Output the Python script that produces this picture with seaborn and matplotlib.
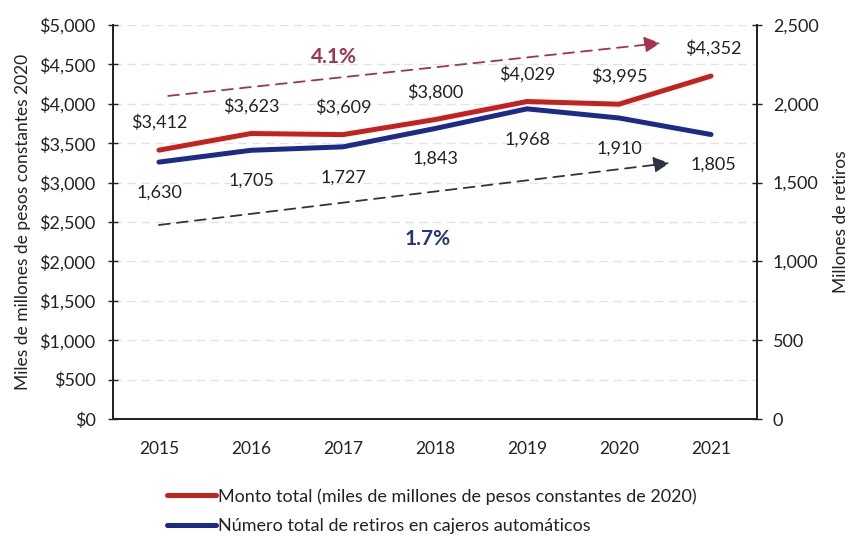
import matplotlib
matplotlib.use("Agg")
import matplotlib.pyplot as plt
from matplotlib.lines import Line2D
import seaborn as sns
import pandas as pd

sns.set_theme(style="white")
plt.rcParams["font.family"] = ["Lato", "DejaVu Sans"]

# Data
years = ["2015", "2016", "2017", "2018", "2019", "2020", "2021"]
monto = [3412, 3623, 3609, 3800, 4029, 3995, 4352]          # miles de millones de pesos 2020
retiros = [1630, 1705, 1727, 1843, 1968, 1910, 1805]        # millones de retiros

# Trend arrows (start/end in category units and axis values)
monto_trend_x = [0.1, 5.45]
monto_trend_y = [4100, 4770]
retiros_trend_x = [0.0, 5.55]
retiros_trend_y = [1231, 1624]
monto_rate = "4.1%"
retiros_rate = "1.7%"

red = "#c4211f"
navy = "#1c2a8a"
red_trend = "#a3344f"
navy_trend = "#2e3348"
text_col = "#222222"
fs = 13

fig = plt.figure(figsize=(8.5, 5.37), dpi=100)
ax = fig.add_axes([113 / 850, 1 - 419 / 537, (757 - 113) / 850, (419 - 25) / 537])
ax2 = ax.twinx()

x = list(range(len(years)))
df = pd.DataFrame({"x": x, "monto": monto, "retiros": retiros})

# light dashed gridlines
for v in range(500, 5001, 500):
    ax.axhline(v, color="#e2e2e2", lw=1.0, ls=(0, (6, 4)), zorder=0)

sns.lineplot(data=df, x="x", y="monto", ax=ax, color=red, lw=3.6, zorder=3)
sns.lineplot(data=df, x="x", y="retiros", ax=ax2, color=navy, lw=3.6, zorder=3)

# trend arrows
ax.annotate("", xy=(monto_trend_x[1], monto_trend_y[1]),
            xytext=(monto_trend_x[0], monto_trend_y[0]),
            arrowprops=dict(arrowstyle="-|>,head_length=0.8,head_width=0.4",
                            color=red_trend, lw=1.3, ls=(0, (6, 4)),
                            shrinkA=0, shrinkB=0))
ax2.annotate("", xy=(retiros_trend_x[1], retiros_trend_y[1]),
             xytext=(retiros_trend_x[0], retiros_trend_y[0]),
             arrowprops=dict(arrowstyle="-|>,head_length=0.8,head_width=0.4",
                             color=navy_trend, lw=1.3, ls=(0, (6, 4)),
                             shrinkA=0, shrinkB=0))
ax.text(1.9, 4590, monto_rate, color=red_trend, fontsize=15, fontweight="bold",
        ha="center", va="center")
ax2.text(2.92, 1140, retiros_rate, color="#243673", fontsize=15, fontweight="bold",
         ha="center", va="center")

# value labels
for i, v in enumerate(monto):
    dx = 0 if i < len(monto) - 1 else 2
    ax.annotate(f"${v:,}", (i, v), xytext=(dx, 20), textcoords="offset points",
                ha="center", va="center", fontsize=fs, color=text_col)
for i, v in enumerate(retiros):
    dx = 0 if i < len(retiros) - 1 else 2
    ax2.annotate(f"{v:,}", (i, v), xytext=(dx, -22), textcoords="offset points",
                 ha="center", va="center", fontsize=fs, color=text_col)

# axes limits and ticks
ax.set_xlim(-0.5, 6.5)
ax.set_ylim(0, 5000)
ax2.set_ylim(0, 2500)
ax.set_xticks([i - 0.5 for i in range(len(years) + 1)])
ax.set_xticklabels([])
ax.set_xticks(x, minor=True)
ax.set_xticklabels(years, minor=True)
ax.tick_params(axis="x", which="major", direction="out", length=6, width=1, color=text_col)
ax.tick_params(axis="x", which="minor", length=0, pad=16, labelsize=fs - 0.5, labelcolor=text_col)
ax.set_yticks(range(0, 5001, 500))
ax.set_yticklabels([f"${v:,}" for v in range(0, 5001, 500)])
ax.tick_params(axis="y", direction="inout", length=7, width=1, color=text_col,
               labelsize=fs, labelcolor=text_col, pad=9)
ax2.set_yticks(range(0, 2501, 500))
ax2.set_yticklabels([f"{v:,}" for v in range(0, 2501, 500)])
ax2.tick_params(axis="y", direction="inout", length=7, width=1, color=text_col,
                labelsize=fs, labelcolor=text_col, pad=8)

ax.set_xlabel("")
ax.set_ylabel("Miles de millones de pesos constantes 2020", fontsize=fs - 0.5,
              color=text_col, labelpad=6)
ax2.set_ylabel("Millones de retiros", fontsize=fs - 0.5, color=text_col, labelpad=10)

for a in (ax, ax2):
    a.spines["top"].set_visible(False)
    for s in ("left", "right", "bottom"):
        a.spines[s].set_color(text_col)
        a.spines[s].set_linewidth(1.3)
ax.grid(False)
ax2.grid(False)

handles = [Line2D([], [], color=red, lw=3.6), Line2D([], [], color=navy, lw=3.6)]
labels = ["Monto total (miles de millones de pesos constantes de 2020)",
          "Número total de retiros en cajeros automáticos"]
fig.legend(handles, labels, loc="upper left", bbox_to_anchor=(158 / 850, 1 - 479 / 537),
           frameon=False, fontsize=13, handlelength=2.7, handletextpad=0.1,
           labelspacing=0.75, borderpad=0, labelcolor=text_col)

fig.savefig("out.png", dpi=100, facecolor="white")
